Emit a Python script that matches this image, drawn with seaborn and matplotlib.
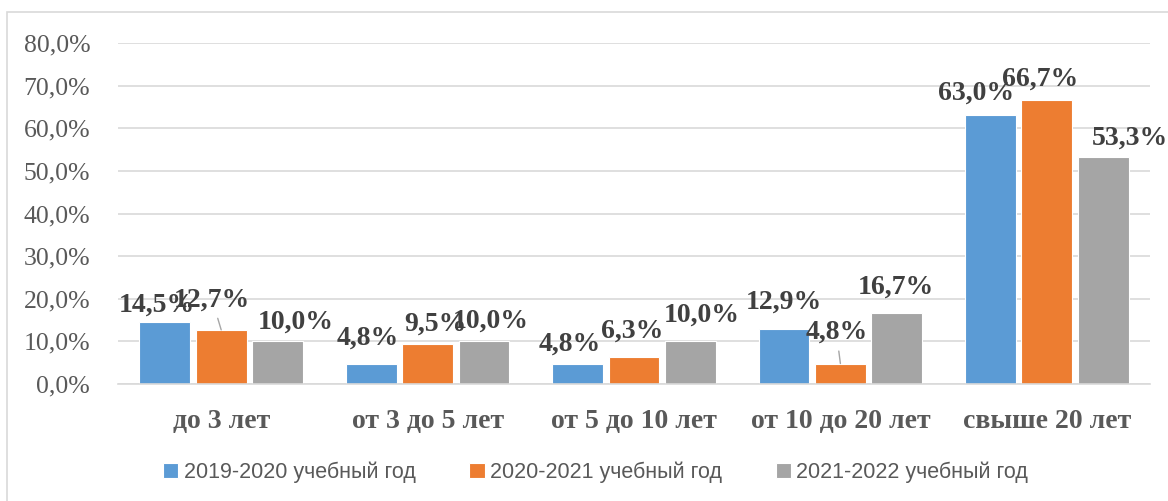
import pandas as pd
import matplotlib.pyplot as plt
import seaborn as sns
from matplotlib.patches import Rectangle

# Values (percent)
categories = ['до 3 лет', 'от 3 до 5 лет', 'от 5 до 10 лет', 'от 10 до 20 лет', 'свыше 20 лет']
years = ['2019-2020 учебный год', '2020-2021 учебный год', '2021-2022 учебный год']
share_2019 = [14.5, 4.8, 4.8, 12.9, 63.0]
share_2020 = [12.7, 9.5, 6.3, 4.8, 66.7]
share_2021 = [10.0, 10.0, 10.0, 16.7, 53.3]
y_ticks = [0, 10, 20, 30, 40, 50, 60, 70, 80]

colors = ['#5B9BD5', '#ED7D31', '#A5A5A5']

# label nudges (pixels) copied from the hand-placed labels of the original
label_offsets = [
    [(-8, 17), (-3, 25), (-8, 19), (0, 27), (-14, 22)],
    [(-9, 30), (8, 19), (-2, 26), (-4, 31), (-7, 21)],
    [(18, 19), (7, 20), (11, 26), (-1, 26), (27, 19)],
]
leaders = {(1, 0), (1, 3)}

df = pd.DataFrame({
    'category': categories * 3,
    'year': [years[0]] * 5 + [years[1]] * 5 + [years[2]] * 5,
    'share': share_2019 + share_2020 + share_2021,
})

sns.set_style('white')
fig = plt.figure(figsize=(11.68, 5.01), dpi=100)
ax = fig.add_axes([118 / 1168, 1 - 384 / 501, (1150 - 118) / 1168, (384 - 43) / 501])

sns.barplot(data=df, x='category', y='share', hue='year', order=categories,
            hue_order=years, palette=colors, width=0.82, gap=0.1,
            edgecolor='white', linewidth=0.8, saturation=1, ax=ax)

ax.set_ylim(0, 80)
ax.set_xlim(-0.5, 4.5)
ax.set_yticks(y_ticks)
ax.set_yticklabels([f'{t:.1f}%'.replace('.', ',') for t in y_ticks],
                   family='Liberation Serif', fontsize=18.5, color='#595959')
ax.set_xticklabels(categories, family='Liberation Serif', fontsize=20,
                   fontweight='bold', color='#595959')
ax.tick_params(axis='x', length=0, pad=18)
ax.tick_params(axis='y', length=0, pad=20)
ax.yaxis.grid(True, color='#D9D9D9', linewidth=1.2)
ax.set_axisbelow(True)
for side in ['top', 'right', 'left']:
    ax.spines[side].set_visible(False)
ax.spines['bottom'].set_color('#D9D9D9')
ax.spines['bottom'].set_linewidth(1.2)
ax.set_xlabel('')
ax.set_ylabel('')

# data labels
for h, cont in enumerate(ax.containers):
    for i, bar in enumerate(cont):
        v = bar.get_height()
        dx, dy = label_offsets[h][i]
        props = None
        if (h, i) in leaders:
            props = dict(arrowstyle='-', color='#A6A6A6', lw=1, shrinkA=2, shrinkB=0)
        ax.annotate(f'{v:.1f}%'.replace('.', ','),
                    xy=(bar.get_x() + bar.get_width() / 2, v),
                    xytext=(dx, dy), textcoords='offset pixels',
                    ha='center', va='center', family='Liberation Serif',
                    fontsize=20, fontweight='bold', color='#404040',
                    arrowprops=props, annotation_clip=False)

# legend at the bottom
handles, labels = ax.get_legend_handles_labels()
ax.legend_.remove()
fig.legend(handles, labels, loc='center', bbox_to_anchor=(0.51, 1 - 472 / 501),
           ncol=3, frameon=False, handlelength=0.7, handleheight=0.7,
           handletextpad=0.25, columnspacing=2.5,
           prop={'family': 'Liberation Sans', 'size': 15.5},
           labelcolor='#595959')

# chart frame
fig.patches.append(Rectangle((7 / 1168, -0.05), 1.2, 1.05 - 12 / 501,
                             transform=fig.transFigure, fill=False,
                             edgecolor='#D9D9D9', linewidth=1.2))

fig.savefig('out.png', dpi=100)
